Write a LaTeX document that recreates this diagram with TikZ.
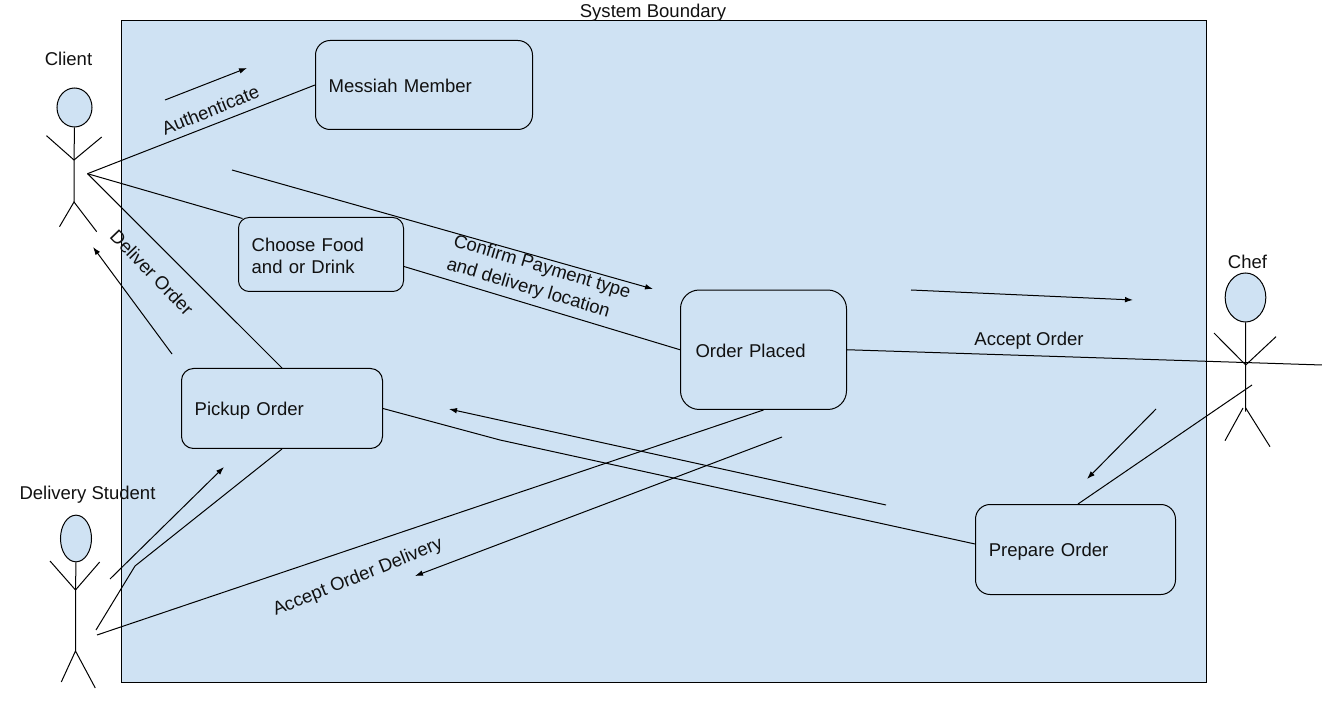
\documentclass[tikz,border=0pt]{standalone}
\usepackage{fontspec}
\setmainfont{Liberation Sans}
\usetikzlibrary{arrows.meta,calc,shapes.geometric}
\definecolor{fillblue}{HTML}{CFE2F3}
\definecolor{ink}{HTML}{111111}
\newcommand{\lowertext}[2]{\raisebox{-#1}[\height][\depth]{#2}}
\tikzset{
  line/.style={draw=black,line width=0.75pt},
  flow/.style={line,-{Latex[length=6pt,width=4.2pt]}},
  usecase/.style={draw=black,line width=0.75pt,fill=fillblue,align=left,inner xsep=9.75pt,inner ysep=0pt,font=\fontsize{13.9}{16.5}\selectfont,text=ink},
  label/.style={font=\fontsize{13.9}{16.5}\selectfont,text=ink,align=center,inner sep=0pt},
  head/.style={ellipse,draw=black,line width=0.75pt,fill=fillblue,inner sep=0pt}
}
\begin{document}
\begin{tikzpicture}[x=0.75pt,y=-0.75pt]
\useasboundingbox (0,0) rectangle (1322,720);
% system boundary
\node[draw=black,line width=0.75pt,fill=fillblue,minimum width=813.75pt,minimum height=496.5pt,inner sep=0pt] (system) at (664,351.5) {};
\node[label] (systemlabel) at (653,12.5) {System Boundary};

% named free ends
\coordinate (clienthub) at (87.5,173.7);
\coordinate (studenthubA) at (96,630);
\coordinate (studenthubB) at (97,635);
\coordinate (studentbend) at (135,566);
\coordinate (chefhubA) at (1322,365);
\coordinate (chefhubB) at (1252,385);

% use cases
\node[usecase,rounded corners=11pt,minimum width=162.75pt,minimum height=66.75pt,text width=143pt] (messiah) at (424,85) {\lowertext{0.75pt}{Messiah Member}};
\node[usecase,rounded corners=8pt,minimum width=123.75pt,minimum height=55.5pt,text width=104pt] (choose) at (321,254.5) {\lowertext{0.9pt}{Choose Food}\\\lowertext{0.9pt}{and or Drink}};
\node[usecase,rounded corners=9pt,minimum width=150.75pt,minimum height=60pt,text width=131pt] (pickup) at (282,408.5) {\lowertext{1.5pt}{Pickup Order}};
\node[usecase,rounded corners=14pt,minimum width=124.5pt,minimum height=89.6pt,inner xsep=11.25pt,text width=102pt] (order) at (763.5,349.75) {\lowertext{0.5pt}{Order Placed}};
\node[usecase,rounded corners=11pt,minimum width=150pt,minimum height=67.5pt,text width=130pt] (prepare) at (1075.5,549.5) {\lowertext{1.5pt}{Prepare Order}};

% connectors
\draw[line] (clienthub) -- (messiah.west);
\draw[line] (clienthub) -- ($(choose.north west)+(4.5,1.5)$);
\draw[line] (clienthub) -- (pickup.north);
\draw[line] ($(choose.east)+(0,12)$) -- (order.west);
\draw[line] (order.east) -- (chefhubA);
\draw[line] ($(prepare.north)+(2.5,0)$) -- (chefhubB);
\draw[line] (pickup.east) -- (500,440) -- ($(prepare.west)+(0,-5.5)$);
\draw[line] (order.south) -- (studenthubB);
\draw[line] (pickup.south) -- (studentbend) -- (studenthubA);

% direction arrows
\coordinate (a1s) at (165,100); \coordinate (a1e) at (247,68);
\coordinate (a2s) at (232,170); \coordinate (a2e) at (653,289);
\coordinate (a3s) at (911,290); \coordinate (a3e) at (1133,300);
\coordinate (a4s) at (1156,409); \coordinate (a4e) at (1087,479);
\coordinate (a5s) at (886,505); \coordinate (a5e) at (449,409);
\coordinate (a6s) at (782,437); \coordinate (a6e) at (415,576);
\coordinate (a7s) at (110,579); \coordinate (a7e) at (224,467);
\coordinate (a8s) at (172,354); \coordinate (a8e) at (93,247);
\draw[flow] (a1s) -- (a1e);
\draw[flow] (a2s) -- (a2e);
\draw[flow] (a3s) -- (a3e);
\draw[flow] (a4s) -- (a4e);
\draw[flow] (a5s) -- (a5e);
\draw[flow] (a6s) -- (a6e);
\draw[flow] (a7s) -- (a7e);
\draw[flow] (a8s) -- (a8e);

% connector labels
\node[label,rotate=22] (authlabel) at (210.5,110) {Authenticate};
\node[label,rotate=-46] (deliverlabel) at (152,272.5) {Deliver Order};
\node[label,rotate=-16.5,align=left,font=\fontsize{13.9}{18}\selectfont] (confirmlabel) at (538.5,279) {Confirm Payment type\\and delivery location};
\node[label] (acceptlabel) at (1029,340.5) {Accept Order};
\node[label,rotate=22] (deliverylabel) at (358,577.5) {Accept Order Delivery};

% actor: Client
\node[label] (clientlabel) at (68.5,59) {Client};
\node[head,minimum width=26.25pt,minimum height=29.25pt] (clienthead) at (74.5,107.5) {};
\coordinate (clientneck) at (74,160); \coordinate (clienthip) at (74,202);
\draw[line] (clienthead.south) -- (clientneck) -- (clienthip);
\draw[line] (46.5,135.7) -- (clientneck) -- (101.7,137);
\draw[line] (59.5,226.7) -- (clienthip) -- (96.7,231.7);

% actor: Delivery Student
\node[label] (studentlabel) at (87.5,495) {Delivery Student};
\node[head,minimum width=23.25pt,minimum height=35pt] (studenthead) at (76,538.5) {};
\coordinate (studentneck) at (75.5,590); \coordinate (studenthip) at (75.5,651);
\draw[line] (studenthead.south) -- (studentneck) -- (studenthip);
\draw[line] (50,561) -- (studentneck) -- (99.7,562);
\draw[line] (61.3,682) -- (studenthip) -- (95.3,688);

% actor: Chef
\node[label] (cheflabel) at (1247.5,262) {Chef};
\node[head,minimum width=30.5pt,minimum height=36.75pt] (chefhead) at (1245.5,297.5) {};
\coordinate (chefneck) at (1245.7,365); \coordinate (chefhip) at (1245.7,408);
\draw[line] (chefhead.south) -- (chefneck) -- (1245.7,411.7);
\draw[line] (1214,333) -- (chefneck) -- (1276,336.7);
\draw[line] (1225,440.7) -- (1243,408);
\draw[line] (chefhip) -- (1270,446.7);
\end{tikzpicture}
\end{document}
